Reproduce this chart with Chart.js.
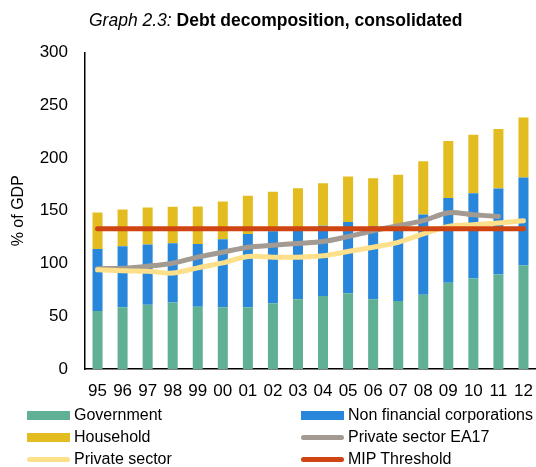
<!DOCTYPE html>
<html>
<head>
<meta charset="utf-8">
<script src="https://cdn.jsdelivr.net/npm/chart.js@4"></script>
<style>
  body { margin: 0; background: #fff; font-family: "Liberation Sans", Arial, sans-serif; }
  #wrap { position: relative; width: 536px; height: 467px; }
  #chart { position: absolute; left: 0; top: 0; }
  #title { position: absolute; top: 10px; left: 89px; font-size: 17.5px; color: #000; white-space: nowrap; }
  #title i { font-weight: normal; }
  .leg { position: absolute; font-size: 16px; color: #000; white-space: nowrap; line-height: 18px; }
  .sw { position: absolute; width: 43px; }
</style>
</head>
<body>
<div id="wrap">
  <canvas id="chart" width="536" height="467"></canvas>
  <div id="title"><i>Graph 2.3:</i> <b>Debt decomposition, consolidated</b></div>
  <div id="legend"></div>
</div>
<script>
  // Data
  const years = ['95','96','97','98','99','00','01','02','03','04','05','06','07','08','09','10','11','12'];
  const government = [55, 58.5, 61, 63, 59, 58.5, 58.5, 62.3, 66, 69.2, 71.7, 66, 64.4, 70.4, 81.8, 85.8, 89.6, 98.1];
  const nonFinCorp = [58.8, 57.8, 57, 56.2, 59.6, 64.5, 69.5, 68.2, 67, 66.6, 67.6, 69.2, 70.5, 76.1, 80.2, 80.9, 81.4, 83.3];
  const household = [34.6, 34.9, 35.1, 34.6, 35.5, 35.8, 36.2, 37.4, 38.4, 40.3, 43.1, 45.6, 49.3, 50.4, 54, 55.3, 56.4, 57];
  const privateEA17 = [95, 95.6, 97.5, 100.3, 106, 110.7, 115.4, 117.3, 119, 120.8, 125.5, 131, 135.8, 140.6, 148.1, 146.2, 144.6, null];
  const privateSector = [94, 93.1, 92.7, 90.9, 95.9, 100.6, 106.6, 106, 106, 107.3, 111.3, 115.4, 120.1, 128, 135.2, 136.8, 138.4, 140.6];
  const mipThreshold = [133, 133, 133, 133, 133, 133, 133, 133, 133, 133, 133, 133, 133, 133, 133, 133, 133, 133];
  const yTicks = [0, 50, 100, 150, 200, 250, 300];

  const colors = {
    gov: '#5fb095', nfc: '#2887da', hh: '#e3bd20',
    ea17: '#a39a92', priv: '#ffe08a', mip: '#cf4511'
  };

  function lineSet(label, data, color, stack) {
    return {
      type: 'line', label: label, data: data, stack: stack,
      borderColor: color, backgroundColor: color, borderWidth: 5,
      pointRadius: 0, tension: 0.3, fill: false, borderCapStyle: 'round', spanGaps: false
    };
  }

  const ctx = document.getElementById('chart').getContext('2d');
  new Chart(ctx, {
    type: 'bar',
    data: {
      labels: years,
      datasets: [
        lineSet('MIP Threshold', mipThreshold, colors.mip, 'l3'),
        lineSet('Private sector', privateSector, colors.priv, 'l2'),
        lineSet('Private sector EA17', privateEA17, colors.ea17, 'l1'),
        { label: 'Government', data: government, backgroundColor: colors.gov, stack: 'bars', order: 10 },
        { label: 'Non financial corporations', data: nonFinCorp, backgroundColor: colors.nfc, stack: 'bars', order: 10 },
        { label: 'Household', data: household, backgroundColor: colors.hh, stack: 'bars', order: 10 }
      ]
    },
    options: {
      responsive: false,
      animation: false,
      barPercentage: 0.4,
      categoryPercentage: 1,
      layout: { padding: { top: 52.5, bottom: 68, left: 0, right: 0 } },
      plugins: { legend: { display: false }, tooltip: { enabled: false } },
      scales: {
        x: {
          stacked: true,
          grid: { display: false, drawTicks: false },
          border: { color: '#000', width: 1.5 },
          ticks: { color: '#000', font: { size: 17, family: 'Liberation Sans' }, padding: 12, maxRotation: 0, autoSkip: false },
          afterFit: function(s) { s.height = 30; s.paddingLeft = 0; s.paddingRight = 0; }
        },
        y: {
          stacked: true,
          min: 0, max: 300,
          afterBuildTicks: function(s) { s.ticks = yTicks.map(v => ({ value: v })); },
          grid: { display: false, drawTicks: false },
          border: { color: '#000', width: 1.5 },
          ticks: { color: '#000', font: { size: 17, family: 'Liberation Sans' }, padding: 17 },
          title: { display: true, text: '% of GDP', color: '#000', font: { size: 16, family: 'Liberation Sans' }, padding: { top: 9, bottom: 0 } },
          afterFit: function(s) { s.width = 85; }
        }
      }
    }
  });

  // Legend (two columns, like the original)
  const legendItems = [
    { text: 'Government', color: colors.gov, kind: 'bar', x: 27, y: 415 },
    { text: 'Non financial corporations', color: colors.nfc, kind: 'bar', x: 301, y: 415 },
    { text: 'Household', color: colors.hh, kind: 'bar', x: 27, y: 437 },
    { text: 'Private sector EA17', color: colors.ea17, kind: 'line', x: 301, y: 437 },
    { text: 'Private sector', color: colors.priv, kind: 'line', x: 27, y: 459 },
    { text: 'MIP Threshold', color: colors.mip, kind: 'line', x: 301, y: 459 }
  ];
  const leg = document.getElementById('legend');
  legendItems.forEach(function(it) {
    const sw = document.createElement('div');
    sw.className = 'sw';
    const h = it.kind === 'bar' ? 9 : 5;
    sw.style.left = it.x + 'px';
    sw.style.top = (it.y - h / 2) + 'px';
    sw.style.height = h + 'px';
    sw.style.background = it.color;
    if (it.kind === 'line') sw.style.borderRadius = '3px';
    leg.appendChild(sw);
    const t = document.createElement('div');
    t.className = 'leg';
    t.style.left = (it.x + 47) + 'px';
    t.style.top = (it.y - 9) + 'px';
    t.textContent = it.text;
    leg.appendChild(t);
  });
</script>
</body>
</html>
